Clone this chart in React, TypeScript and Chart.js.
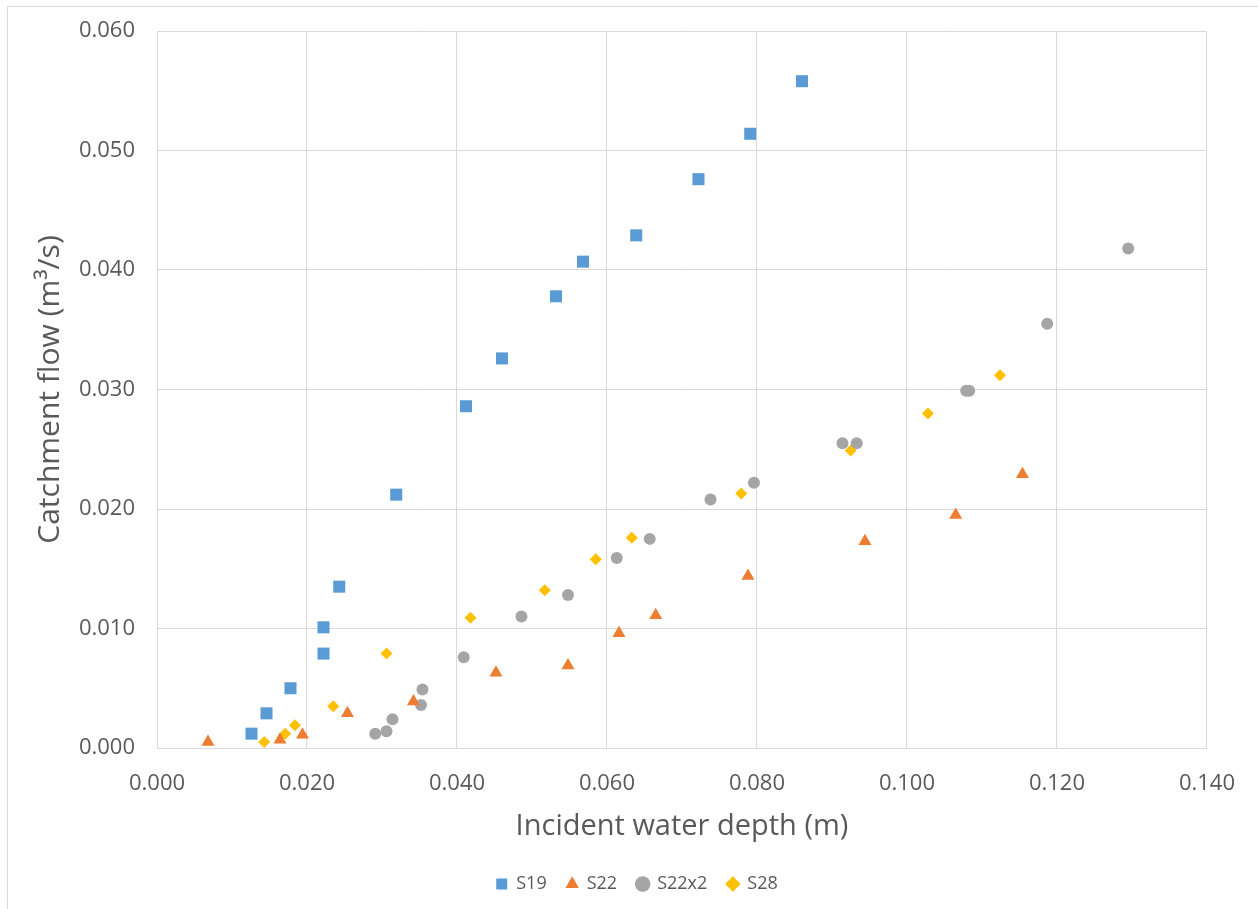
import React, { useEffect, useRef } from "react";
import { Chart, registerables } from "chart.js";

Chart.register(...registerables);

const S19_X = [0.0126, 0.0146, 0.0178, 0.0222, 0.0222, 0.0243, 0.0319, 0.0412, 0.046, 0.0532, 0.0568, 0.0639, 0.0722, 0.0791, 0.086];
const S19_Y = [0.0012, 0.0029, 0.005, 0.0079, 0.0101, 0.0135, 0.0212, 0.0286, 0.0326, 0.0378, 0.0407, 0.0429, 0.0476, 0.0514, 0.0558];

const S22_X = [0.0068, 0.0164, 0.0194, 0.0254, 0.0342, 0.0452, 0.0548, 0.0616, 0.0665, 0.0788, 0.0944, 0.1065, 0.1154];
const S22_Y = [0.0005, 0.0007, 0.0011, 0.0029, 0.0039, 0.0063, 0.0069, 0.0096, 0.0111, 0.0144, 0.0173, 0.0195, 0.0229];

const S22X2_X = [0.0291, 0.0306, 0.0314, 0.0352, 0.0354, 0.0409, 0.0486, 0.0548, 0.0613, 0.0657, 0.0738, 0.0796, 0.0914, 0.0933, 0.1079, 0.1083, 0.1187, 0.1295];
const S22X2_Y = [0.0012, 0.0014, 0.0024, 0.0036, 0.0049, 0.0076, 0.011, 0.0128, 0.0159, 0.0175, 0.0208, 0.0222, 0.0255, 0.0255, 0.0299, 0.0299, 0.0355, 0.0418];

const S28_X = [0.0143, 0.0171, 0.0184, 0.0235, 0.0306, 0.0418, 0.0517, 0.0585, 0.0633, 0.0779, 0.0925, 0.1028, 0.1124];
const S28_Y = [0.0005, 0.0012, 0.0019, 0.0035, 0.0079, 0.0109, 0.0132, 0.0158, 0.0176, 0.0213, 0.0249, 0.028, 0.0312];

const X_MIN = 0;
const X_MAX = 0.14;
const X_STEP = 0.02;
const Y_MIN = 0;
const Y_MAX = 0.06;
const Y_STEP = 0.01;

const X_TITLE = "Incident water depth (m)";
const Y_TITLE = "Catchment flow (m³/s)";

const FONT = "'Open Sans', sans-serif";
const TEXT = "#595959";
const GRID = "#d9d9d9";

const pts = (xs: number[], ys: number[]) => xs.map((x, i) => ({ x, y: ys[i] }));

export default function App() {
  const ref = useRef<HTMLCanvasElement | null>(null);
  useEffect(() => {
    if (!ref.current) return;
    const chart = new Chart(ref.current, {
      type: "scatter",
      data: {
        datasets: [
          { label: "S19", data: pts(S19_X, S19_Y), pointStyle: "rect", pointRadius: 8.5, backgroundColor: "#5B9BD5", borderColor: "#5B9BD5", borderWidth: 0 },
          { label: "S22", data: pts(S22_X, S22_Y), pointStyle: "triangle", pointRadius: 7.5, backgroundColor: "#ED7D31", borderColor: "#ED7D31", borderWidth: 0 },
          { label: "S22x2", data: pts(S22X2_X, S22X2_Y), pointStyle: "circle", pointRadius: 6, backgroundColor: "#A5A5A5", borderColor: "#A5A5A5", borderWidth: 0 },
          { label: "S28", data: pts(S28_X, S28_Y), pointStyle: "rectRot", pointRadius: 6, backgroundColor: "#FFC000", borderColor: "#FFC000", borderWidth: 0 },
        ],
      },
      options: {
        animation: false,
        responsive: false,
        maintainAspectRatio: false,
        layout: { padding: { top: 31, left: 16, right: 0, bottom: 6 } },
        plugins: {
          tooltip: { enabled: false },
          legend: {
            position: "bottom",
            labels: {
              usePointStyle: true,
              boxWidth: 11,
              boxHeight: 11,
              padding: 20,
              color: TEXT,
              font: { family: FONT, size: 18 },
            },
          },
        },
        scales: {
          x: {
            type: "linear",
            min: X_MIN,
            max: X_MAX,
            ticks: {
              stepSize: X_STEP,
              padding: 23,
              color: TEXT,
              font: { family: FONT, size: 22 },
              callback: (v: any) => Number(v).toFixed(3),
            },
            grid: { color: GRID, lineWidth: 1, drawTicks: false },
            border: { color: GRID, width: 1 },
            title: { display: true, text: X_TITLE, color: TEXT, font: { family: FONT, size: 29 }, padding: { top: 14, bottom: 11 } },
            afterFit: (axis: any) => { axis.height = 107; },
          },
          y: {
            type: "linear",
            min: Y_MIN,
            max: Y_MAX,
            ticks: {
              stepSize: Y_STEP,
              padding: 4,
              color: TEXT,
              font: { family: FONT, size: 22 },
              callback: (v: any) => Number(v).toFixed(3),
            },
            grid: { color: GRID, lineWidth: 1, drawTicks: true, tickLength: 18, tickColor: "rgba(0,0,0,0)" },
            border: { color: GRID, width: 1 },
            title: { display: true, text: Y_TITLE, color: TEXT, font: { family: FONT, size: 30 }, padding: { top: 16, bottom: 0 } },
            afterFit: (axis: any) => { axis.width = 141; },
          },
          y2: {
            type: "linear",
            position: "right",
            display: true,
            ticks: { display: false },
            grid: { display: false, drawTicks: false },
            border: { display: false },
            afterFit: (axis: any) => { axis.width = 48; },
          },
        },
      },
    } as any);
    return () => chart.destroy();
  }, []);
  return (
    <div style={{ position: "fixed", left: 0, top: 0, width: 1258, height: 909, background: "#fff" }}>
      <div style={{ position: "absolute", left: 7, top: 6, width: 1258, height: 909, border: "1px solid #d9d9d9", boxSizing: "border-box" }} />
      <canvas ref={ref} width={1258} height={909} style={{ position: "absolute", left: 0, top: 0, display: "block" }} />
    </div>
  );
}
